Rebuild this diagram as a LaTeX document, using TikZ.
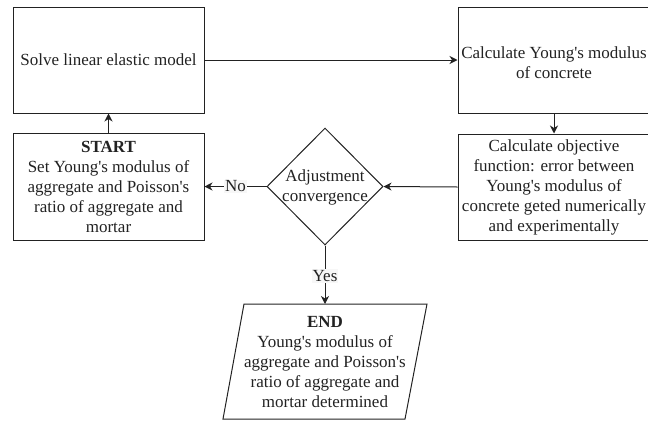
\documentclass[tikz,border=0pt]{standalone}
\usepackage{fontspec}
\setmainfont{Liberation Serif}
\usetikzlibrary{shapes.geometric,arrows.meta}
\definecolor{ink}{HTML}{222222}
\newcommand{\aq}{\textquotesingle}
\tikzset{
  x=1pt, y=-1pt,
  every node/.style={font=\fontsize{17}{20}\selectfont, text=ink},
  boxnode/.style={draw=ink, line width=1pt, rectangle, minimum width=191pt, minimum height=106pt, align=center, inner sep=2pt},
  txt/.style={align=center, inner sep=0pt},
  outline/.style={draw=ink, line width=1pt, line join=miter},
  conn/.style={draw=ink, line width=1pt, -{Stealth[length=8pt,width=8pt,inset=2.5pt]}},
  lbl/.style={fill=gray!6, inner sep=1pt}
}
\begin{document}
\begin{tikzpicture}
\useasboundingbox (0,0) rectangle (648,421);
\node[boxnode] (b1) at (108.5,60) {Solve linear elastic model};
\node[boxnode, minimum width=192pt] (b2) at (554,60) {};
\node[txt] (b2t) at (554,63) {Calculate Young\aq s modulus\\of concrete};
\node[boxnode, minimum width=192pt] (b3) at (554,187) {Calculate objective\\function: error between\\Young\aq s modulus of\\concrete geted numerically\\and experimentally};
\node[boxnode, minimum height=107pt] (st) at (108.5,186.5) {\textbf{START}\\Set Young\aq s modulus of\\aggregate and Poisson\aq s\\ratio of aggregate and\\mortar};
\node[draw=ink, line width=1pt, diamond, minimum width=116pt, minimum height=117pt, inner sep=0pt] (d) at (325,186.5) {};
\node[txt] (dt) at (325,187) {Adjustment\\convergence};
\draw[outline] (244,304) -- (427,304) -- (405,419) -- (223,419) -- cycle;
\coordinate (etop) at (325,304);
\node[txt] (et) at (325,362) {\textbf{END}\\Young\aq s modulus of\\aggregate and Poisson\aq s\\ratio of aggregate and\\mortar determined};
\draw[conn] (b1.east) -- (b2.west);
\draw[conn] (b2.south) -- (b3.north);
\draw[conn] (b3.west) -- (d.east);
\draw[conn] (d.west) -- node[lbl] {No} (st.east);
\draw[conn] (st.north) -- (b1.south);
\draw[conn] (d.south) -- node[lbl, pos=0.52] {Yes} (etop);
\end{tikzpicture}
\end{document}
